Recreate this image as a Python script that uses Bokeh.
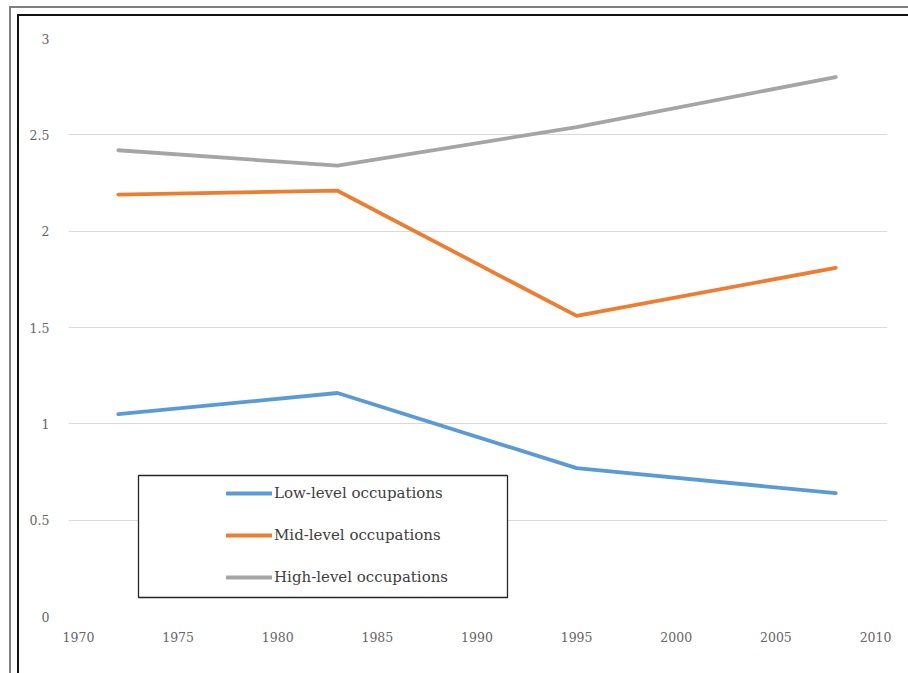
from bokeh.plotting import figure
from bokeh.models import Legend, LegendItem, BoxAnnotation, Range1d, FixedTicker
from bokeh.embed import file_html
from bokeh.resources import INLINE

years = [1972, 1983, 1995, 2008]
low_level = [1.05, 1.16, 0.77, 0.64]
mid_level = [2.19, 2.21, 1.56, 1.81]
high_level = [2.42, 2.34, 2.54, 2.80]
series_names = ["Low-level occupations", "Mid-level occupations", "High-level occupations"]
series_colors = ["#5b9bd5", "#ed7d31", "#a5a5a5"]
x_ticks = [1970, 1975, 1980, 1985, 1990, 1995, 2000, 2005, 2010]
y_ticks = [0, 0.5, 1, 1.5, 2, 2.5, 3]

W, H = 908, 673
p = figure(width=W, height=H, output_backend="svg", toolbar_location=None,
           x_range=Range1d(1969.5, 2010.6), y_range=Range1d(0, 3),
           min_border_left=68, min_border_right=21, min_border_top=38, min_border_bottom=57)
p.outline_line_color = None
p.background_fill_color = "white"
p.border_fill_alpha = 0
p.styles = {
    "background-color": "white",
    "box-shadow": ("inset 9px 6px 0 0 #ffffff, inset 11px 8px 0 0 #7f7f7f, "
                   "inset 17px 14px 0 0 #ffffff, inset 19px 16px 0 0 #111111"),
}

tick_font = "DejaVu Serif"
for ax in (p.xaxis[0], p.yaxis[0]):
    ax.axis_line_color = None
    ax.major_tick_line_color = None
    ax.minor_tick_line_color = None
    ax.major_label_text_font = tick_font
    ax.major_label_text_font_size = "12.5px"
    ax.major_label_text_color = "#666666"
p.xaxis[0].ticker = FixedTicker(ticks=x_ticks)
p.yaxis[0].ticker = FixedTicker(ticks=y_ticks)
p.xaxis[0].major_label_standoff = 9
p.yaxis[0].major_label_standoff = 13
p.yaxis[0].major_label_overrides = {0: "0", 0.5: "0.5", 1: "1", 1.5: "1.5", 2: "2", 2.5: "2.5", 3: "3"}
p.xgrid.grid_line_color = None
p.ygrid.grid_line_color = "#d9d9d9"
p.ygrid.grid_line_width = 1
p.ygrid.ticker = FixedTicker(ticks=y_ticks)

renderers = []
for vals, c in zip([low_level, mid_level, high_level], series_colors):
    r = p.line(years, vals, line_color=c, line_width=3.8, line_cap="round", line_join="round")
    renderers.append(r)

# legend box
p.add_layout(BoxAnnotation(left=138, right=507, top=475, bottom=597,
                           left_units="canvas", right_units="canvas",
                           top_units="canvas", bottom_units="canvas",
                           fill_color="white", fill_alpha=1,
                           line_color="#262626", line_alpha=1, line_width=1.3))

legend = Legend(items=[LegendItem(label=n, renderers=[r]) for n, r in zip(series_names, renderers)],
                location=(158, 29), orientation="vertical",
                border_line_color=None, background_fill_alpha=0,
                padding=0, margin=0, spacing=22, glyph_width=46, glyph_height=20,
                label_height=20, label_standoff=2,
                label_text_font="DejaVu Serif", label_text_font_size="15px",
                label_text_color="#404040")
p.add_layout(legend)

open("out.html", "w").write(file_html(p, INLINE))
